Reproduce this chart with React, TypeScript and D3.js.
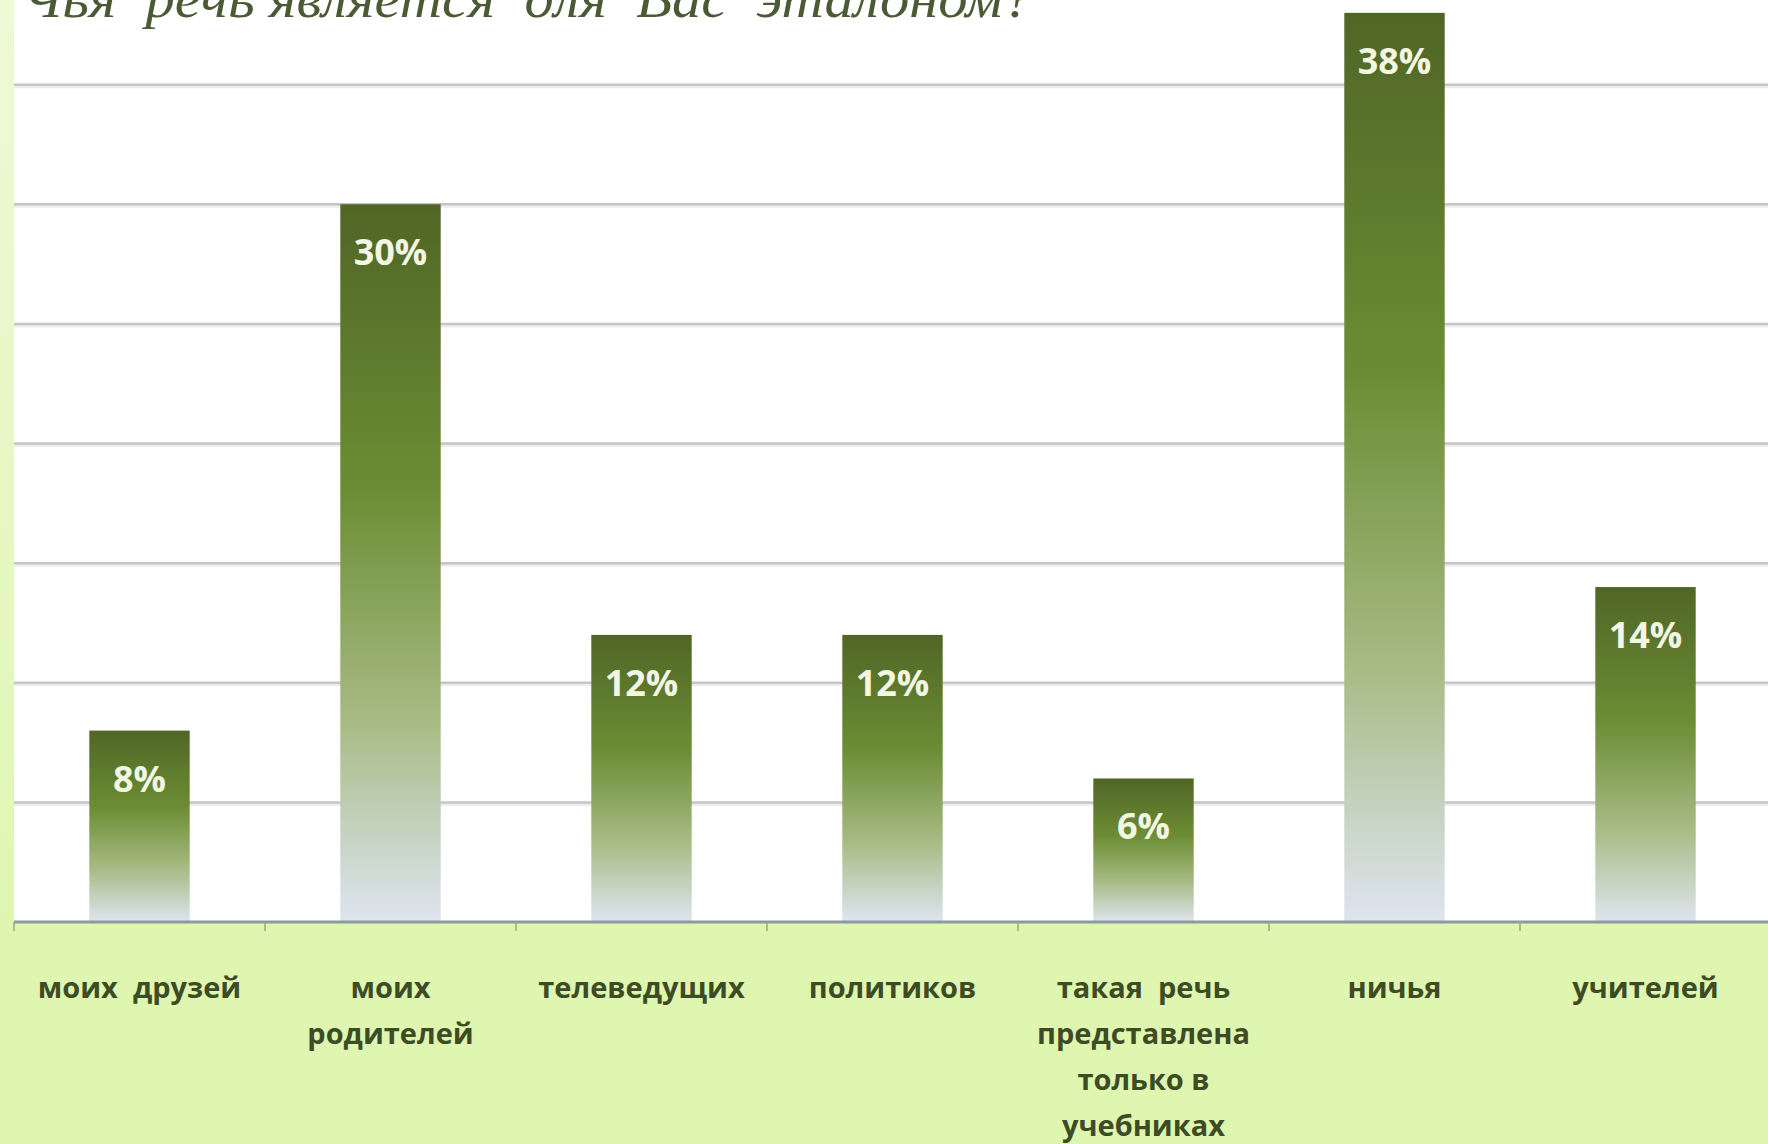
import React, { useEffect } from 'react';
import * as d3 from 'd3';

// Survey: whose speech is the standard for you
const CATEGORIES = [
  ['моих  друзей'],
  ['моих', 'родителей'],
  ['телеведущих'],
  ['политиков'],
  ['такая  речь', 'представлена', 'только в', 'учебниках'],
  ['ничья'],
  ['учителей'],
];
const VALUES = [8, 30, 12, 12, 6, 38, 14];
const GRID_TICKS = [5, 10, 15, 20, 25, 30, 35, 40];
const TITLE = 'Чья  речь является  для  Вас  эталоном?';

const W = 1768;
const H = 1144;
const PLOT_LEFT = 14;
const PLOT_RIGHT = 1771;
const BASELINE = 922;
const TOP_AT_40 = -35;

const App: React.FC = () => {
  useEffect(() => {
    document.body.style.margin = '0';
    document.body.style.overflow = 'hidden';
  }, []);

  const ids = CATEGORIES.map((_, i) => String(i));
  const x = d3
    .scaleBand<string>()
    .domain(ids)
    .range([PLOT_LEFT, PLOT_RIGHT])
    .paddingInner(0.6)
    .paddingOuter(0.3);
  const y = d3.scaleLinear().domain([0, 40]).range([BASELINE, TOP_AT_40]);
  const step = x.step();
  const tickXs = d3.range(ids.length + 1).map((i) => PLOT_LEFT + i * step);
  const cx = (i: number) => (x(ids[i]) ?? 0) + x.bandwidth() / 2;

  return (
    <svg width={W} height={H} style={{ display: 'block', position: 'absolute', left: 0, top: 0 }}>
      <defs>
        <linearGradient id="barFill" x1="0" y1="0" x2="0" y2="1">
          <stop offset="0%" stopColor="#506626" />
          <stop offset="40%" stopColor="#6c8d34" />
          <stop offset="72%" stopColor="#a7bb84" />
          <stop offset="100%" stopColor="#dee5f0" />
        </linearGradient>
        <linearGradient id="leftStrip" x1="0" y1="0" x2="0" y2="1">
          <stop offset="0%" stopColor="#eef9d6" />
          <stop offset="100%" stopColor="#dcf5ab" />
        </linearGradient>
      </defs>

      <rect x={0} y={0} width={W} height={H} fill="#ffffff" />
      <rect x={0} y={0} width={PLOT_LEFT} height={H} fill="url(#leftStrip)" />
      <rect x={0} y={BASELINE} width={W} height={H - BASELINE} fill="#dff6b0" />

      {/* title, cut by the top edge as in the source */}
      <text
        x={22}
        y={17}
        fontFamily="'Liberation Serif', serif"
        fontStyle="italic"
        fontSize={54}
        fill="#4b5a34"
        textLength={1010}
        lengthAdjust="spacingAndGlyphs"
        style={{ whiteSpace: 'pre' }}
      >
        {TITLE}
      </text>

      {/* gridlines */}
      {GRID_TICKS.map((t) => (
        <g key={t}>
          <line x1={PLOT_LEFT} x2={W} y1={y(t) + 2} y2={y(t) + 2} stroke="#ededed" strokeWidth={3} />
          <line x1={PLOT_LEFT} x2={W} y1={y(t)} y2={y(t)} stroke="#c6c6c6" strokeWidth={2.5} />
        </g>
      ))}

      {/* bars */}
      {VALUES.map((v, i) => (
        <rect
          key={i}
          x={x(ids[i])}
          y={y(v)}
          width={x.bandwidth()}
          height={BASELINE - y(v)}
          fill="url(#barFill)"
        />
      ))}

      {/* axis line and ticks */}
      <line x1={PLOT_LEFT} x2={W} y1={BASELINE} y2={BASELINE} stroke="#8c9aa0" strokeWidth={3} />
      {tickXs.map((tx, i) => (
        <line key={i} x1={tx} x2={tx} y1={BASELINE} y2={BASELINE + 9} stroke="#9aa590" strokeWidth={1.5} />
      ))}

      {/* value labels */}
      {VALUES.map((v, i) => (
        <text
          key={i}
          x={cx(i)}
          y={y(v) + 61}
          textAnchor="middle"
          fontFamily="'Open Sans', sans-serif"
          fontWeight={700}
          fontSize={36}
          fill="#f2f7e4"
        >
          {v}%
        </text>
      ))}

      {/* category labels */}
      {CATEGORIES.map((lines, i) => (
        <text
          key={i}
          x={cx(i)}
          y={998}
          textAnchor="middle"
          fontFamily="'Open Sans', sans-serif"
          fontWeight={700}
          fontSize={29}
          fill="#3d4c24"
        >
          {lines.map((ln, j) => (
            <tspan key={j} x={cx(i)} dy={j === 0 ? 0 : 46} style={{ whiteSpace: 'pre' }}>
              {ln}
            </tspan>
          ))}
        </text>
      ))}
    </svg>
  );
};

export default App;
